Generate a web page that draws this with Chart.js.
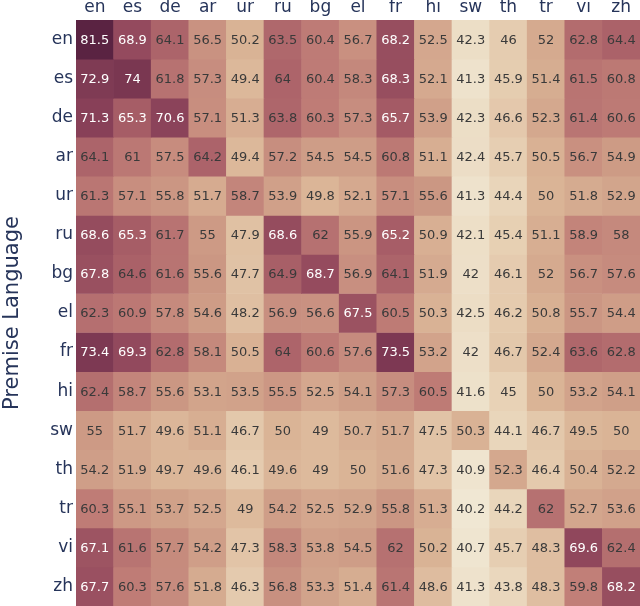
<!DOCTYPE html>
<html>
<head>
<meta charset="utf-8">
<script src="https://cdn.jsdelivr.net/npm/chart.js@4/dist/chart.umd.min.js"></script>
<style>
  body { margin: 0; background: #fff; }
  #wrap { width: 640px; height: 606px; }
</style>
</head>
<body>
<div id="wrap"><canvas id="heat"></canvas></div>
<script>
// hypothesis languages (columns) and premise languages (rows)
const hypothesisLangs = ['en', 'es', 'de', 'ar', 'ur', 'ru', 'bg', 'el', 'fr', 'hi', 'sw', 'th', 'tr', 'vi', 'zh'];
const premiseLangs = ['en', 'es', 'de', 'ar', 'ur', 'ru', 'bg', 'el', 'fr', 'hi', 'sw', 'th', 'tr', 'vi', 'zh'];

const enRow = [81.5, 68.9, 64.1, 56.5, 50.2, 63.5, 60.4, 56.7, 68.2, 52.5, 42.3, 46, 52, 62.8, 64.4];
const esRow = [72.9, 74, 61.8, 57.3, 49.4, 64, 60.4, 58.3, 68.3, 52.1, 41.3, 45.9, 51.4, 61.5, 60.8];
const deRow = [71.3, 65.3, 70.6, 57.1, 51.3, 63.8, 60.3, 57.3, 65.7, 53.9, 42.3, 46.6, 52.3, 61.4, 60.6];
const arRow = [64.1, 61, 57.5, 64.2, 49.4, 57.2, 54.5, 54.5, 60.8, 51.1, 42.4, 45.7, 50.5, 56.7, 54.9];
const urRow = [61.3, 57.1, 55.8, 51.7, 58.7, 53.9, 49.8, 52.1, 57.1, 55.6, 41.3, 44.4, 50, 51.8, 52.9];
const ruRow = [68.6, 65.3, 61.7, 55, 47.9, 68.6, 62, 55.9, 65.2, 50.9, 42.1, 45.4, 51.1, 58.9, 58];
const bgRow = [67.8, 64.6, 61.6, 55.6, 47.7, 64.9, 68.7, 56.9, 64.1, 51.9, 42, 46.1, 52, 56.7, 57.6];
const elRow = [62.3, 60.9, 57.8, 54.6, 48.2, 56.9, 56.6, 67.5, 60.5, 50.3, 42.5, 46.2, 50.8, 55.7, 54.4];
const frRow = [73.4, 69.3, 62.8, 58.1, 50.5, 64, 60.6, 57.6, 73.5, 53.2, 42, 46.7, 52.4, 63.6, 62.8];
const hiRow = [62.4, 58.7, 55.6, 53.1, 53.5, 55.5, 52.5, 54.1, 57.3, 60.5, 41.6, 45, 50, 53.2, 54.1];
const swRow = [55, 51.7, 49.6, 51.1, 46.7, 50, 49, 50.7, 51.7, 47.5, 50.3, 44.1, 46.7, 49.5, 50];
const thRow = [54.2, 51.9, 49.7, 49.6, 46.1, 49.6, 49, 50, 51.6, 47.3, 40.9, 52.3, 46.4, 50.4, 52.2];
const trRow = [60.3, 55.1, 53.7, 52.5, 49, 54.2, 52.5, 52.9, 55.8, 51.3, 40.2, 44.2, 62, 52.7, 53.6];
const viRow = [67.1, 61.6, 57.7, 54.2, 47.3, 58.3, 53.8, 54.5, 62, 50.2, 40.7, 45.7, 48.3, 69.6, 62.4];
const zhRow = [67.7, 60.3, 57.6, 51.8, 46.3, 56.8, 53.3, 51.4, 61.4, 48.6, 41.3, 43.8, 48.3, 59.8, 68.2];

const rows = [enRow, esRow, deRow, arRow, urRow, ruRow, bgRow, elRow, frRow, hiRow, swRow, thRow, trRow, viRow, zhRow];

// colour scale, light cream -> dark plum
const colorStops = [
    [40, [240, 232, 212]],
    [45, [232, 210, 182]],
    [50, [218, 180, 150]],
    [55, [205, 154, 133]],
    [60, [192, 126, 119]],
    [65, [168, 94, 103]],
    [70, [142, 69, 91]],
    [75, [117, 51, 79]],
    [81.5, [90, 35, 66]],
];

function cellColor(v) {
    if (v <= colorStops[0][0]) return `rgb(${colorStops[0][1].join(',')})`;
    for (let i = 1; i < colorStops.length; i++) {
        const [v1, c1] = colorStops[i];
        const [v0, c0] = colorStops[i - 1];
        if (v <= v1) {
            const t = (v - v0) / (v1 - v0);
            const c = c0.map((x, k) => Math.round(x + (c1[k] - x) * t));
            return `rgb(${c.join(',')})`;
        }
    }
    return `rgb(${colorStops[colorStops.length - 1][1].join(',')})`;
}

const axisColor = '#26345a';

// write the value in every cell
const cellLabels = {
    id: 'cellLabels',
    afterDatasetsDraw(chart) {
        const ctx = chart.ctx;
        ctx.save();
        ctx.font = '13px "DejaVu Sans"';
        ctx.textAlign = 'center';
        ctx.textBaseline = 'middle';
        chart.data.datasets.forEach((ds, i) => {
            chart.getDatasetMeta(i).data.forEach((bar, j) => {
                const v = ds.values[j];
                ctx.fillStyle = v >= 65 ? '#ffffff' : '#3a3a3a';
                ctx.fillText(String(v), bar.x, (bar.y + bar.base) / 2 + 1);
            });
        });
        ctx.restore();
    }
};

new Chart(document.getElementById('heat'), {
    type: 'bar',
    data: {
        labels: hypothesisLangs,
        datasets: premiseLangs.map((lang, i) => ({
            label: lang,
            values: rows[i],
            data: hypothesisLangs.map(() => 1),
            backgroundColor: rows[i].map(cellColor),
            borderWidth: 0,
            barPercentage: 1,
            categoryPercentage: 1,
        })),
    },
    options: {
        responsive: true,
        maintainAspectRatio: false,
        animation: false,
        layout: { padding: 0 },
        plugins: {
            legend: { display: false },
            tooltip: { enabled: false },
        },
        scales: {
            x: {
                position: 'top',
                stacked: true,
                grid: { display: false, drawTicks: false },
                border: { display: false },
                ticks: { color: axisColor, font: { family: 'DejaVu Sans', size: 17 }, padding: 2 },
                afterFit: (axis) => { axis.height = 20; },
            },
            y: {
                stacked: true,
                reverse: true,
                min: 0,
                max: premiseLangs.length,
                grid: { display: false, drawTicks: false },
                border: { display: false },
                afterBuildTicks: (axis) => {
                    axis.ticks = premiseLangs.map((_, i) => ({ value: i + 0.5 }));
                },
                ticks: {
                    autoSkip: false,
                    color: axisColor,
                    font: { family: 'DejaVu Sans', size: 17 },
                    padding: 3,
                    callback: (value) => premiseLangs[Math.floor(value)],
                },
                title: {
                    display: true,
                    text: 'Premise Language',
                    color: axisColor,
                    font: { family: 'DejaVu Sans', size: 21 },
                    padding: { top: 0, bottom: 0 },
                },
                afterFit: (axis) => {
                    axis.width = 76;
                    axis.paddingTop = 0;
                    axis.paddingBottom = 0;
                },
            },
        },
    },
    plugins: [cellLabels],
});
</script>
</body>
</html>
